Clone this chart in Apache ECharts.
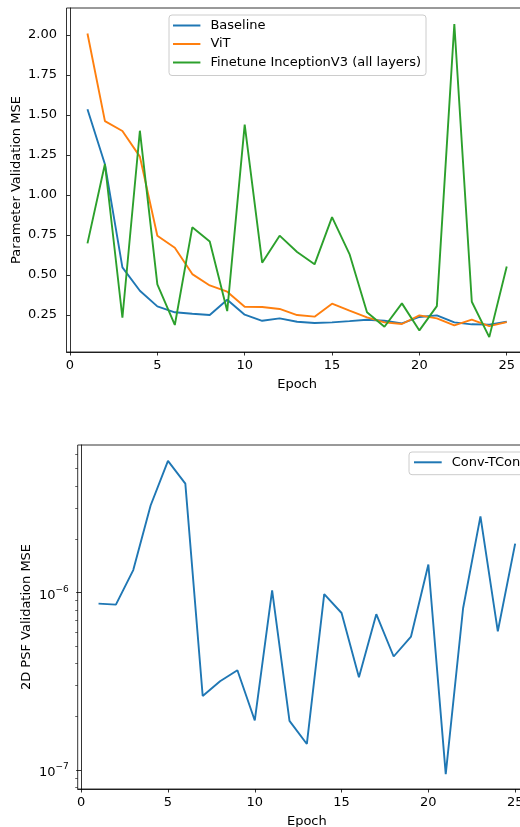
<!DOCTYPE html>
<html>
<head>
<meta charset="utf-8">
<script src="https://cdn.jsdelivr.net/npm/echarts@6/dist/echarts.min.js"></script>
<style>html,body{margin:0;padding:0;background:#fff}#c{width:520px;height:827px}</style>
</head>
<body>
<div id="c"></div>
<script>
const epochs = [1,2,3,4,5,6,7,8,9,10,11,12,13,14,15,16,17,18,19,20,21,22,23,24,25];
const baseline = [1.536,1.192,0.548,0.402,0.304,0.267,0.258,0.250,0.346,0.252,0.214,0.229,0.208,0.200,0.204,0.212,0.221,0.214,0.198,0.238,0.248,0.204,0.192,0.190,0.208];
const vit = [2.010,1.462,1.400,1.240,0.746,0.671,0.506,0.435,0.396,0.302,0.300,0.288,0.250,0.240,0.321,0.277,0.235,0.204,0.194,0.248,0.229,0.186,0.221,0.181,0.206];
const inception = [0.698,1.194,0.233,1.402,0.442,0.188,0.798,0.710,0.275,1.440,0.577,0.746,0.644,0.567,0.862,0.631,0.267,0.177,0.323,0.154,0.306,2.069,0.333,0.112,0.554];
const convTConv = [8.67e-7,8.55e-7,1.34e-6,3.10e-6,5.53e-6,4.12e-6,2.61e-7,3.16e-7,3.65e-7,1.90e-7,1.03e-6,1.89e-7,1.40e-7,9.79e-7,7.67e-7,3.33e-7,7.55e-7,4.36e-7,5.65e-7,1.44e-6,9.46e-8,8.16e-7,2.69e-6,6.05e-7,1.89e-6];
const xTicks = [0,5,10,15,20,25];
const yTicksTop = [0.25,0.5,0.75,1.0,1.25,1.5,1.75,2.0];
const yTicksBottom = [1e-7,1e-6];
const yMinorBottom = [8e-8,9e-8,2e-7,3e-7,4e-7,5e-7,6e-7,7e-7,8e-7,9e-7,2e-6,3e-6,4e-6,5e-6,6e-6];

const FONT = 'DejaVu Sans';
const FS = 13;
const black = '#000';
const pair = (xs, ys) => xs.map((x, i) => [x, ys[i]]);

const xAxisBase = (gi) => ({
  type: 'value', gridIndex: gi, min: -0.2, max: 26.2,
  axisLine: {show: true, lineStyle: {color: black, width: 0.8}},
  axisTick: {show: true, length: 3.5, lineStyle: {color: black, width: 0.8}, customValues: xTicks},
  axisLabel: {color: black, fontFamily: FONT, fontSize: FS, margin: 7, customValues: xTicks},
  splitLine: {show: false},
  name: 'Epoch', nameLocation: 'middle', nameGap: 26, nameMoveOverlap: false,
  nameTextStyle: {color: black, fontFamily: FONT, fontSize: FS}
});

const option = {
  animation: false,
  backgroundColor: '#fff',
  textStyle: {fontFamily: FONT},
  grid: [
    {left: 66.5, top: 8, width: 461.2, height: 344, show: true, borderColor: black, borderWidth: 0.8, outerBoundsMode: 'none', containLabel: false},
    {left: 77.7, top: 445, width: 458.3, height: 344, show: true, borderColor: black, borderWidth: 0.8, outerBoundsMode: 'none', containLabel: false}
  ],
  legend: [
    {
      data: ['Baseline', 'ViT', 'Finetune InceptionV3 (all layers)'],
      orient: 'vertical', left: 169, top: 15,
      padding: [3.5, 5, 6, 4], itemGap: 4.5,
      itemWidth: 27.4, itemHeight: 2, icon: 'rect',
      backgroundColor: 'rgba(255,255,255,0.8)', borderColor: '#cccccc', borderWidth: 1, borderRadius: 3,
      textStyle: {color: black, fontFamily: FONT, fontSize: FS, lineHeight: 14, padding: [0, 0, 0, 5]}
    },
    {
      data: ['Conv-TConv'],
      orient: 'vertical', left: 409, top: 452,
      padding: [3.3, 5, 5.4, 5], itemGap: 4.5,
      itemWidth: 27.7, itemHeight: 2, icon: 'rect',
      backgroundColor: 'rgba(255,255,255,0.8)', borderColor: '#cccccc', borderWidth: 1, borderRadius: 3,
      textStyle: {color: black, fontFamily: FONT, fontSize: FS, lineHeight: 14, padding: [0, 0, 0, 5]}
    }
  ],
  xAxis: [xAxisBase(0), xAxisBase(1)],
  yAxis: [
    {
      type: 'value', gridIndex: 0, min: 0.019, max: 2.169, position: 'left',
      axisLine: {show: true, lineStyle: {color: black, width: 0.8}},
      axisTick: {show: true, length: 3.5, lineStyle: {color: black, width: 0.8}, customValues: yTicksTop},
      axisLabel: {color: black, fontFamily: FONT, fontSize: FS, margin: 9.5, customValues: yTicksTop,
        formatter: v => Number(v).toFixed(2)},
      splitLine: {show: false},
      name: 'Parameter Validation MSE', nameLocation: 'middle', nameGap: 43.3, nameMoveOverlap: false,
      nameTextStyle: {color: black, fontFamily: FONT, fontSize: FS}
    },
    {
      type: 'log', logBase: 10, gridIndex: 1, min: 7.8e-8, max: 6.8e-6, position: 'left',
      axisLine: {show: true, lineStyle: {color: black, width: 0.8}},
      axisTick: {show: true, length: 5, lineStyle: {color: black, width: 0.8}, customValues: yTicksBottom},
      axisLabel: {color: black, fontFamily: FONT, fontSize: FS, margin: 9, customValues: yTicksBottom,
        formatter: v => {
          const e = Math.round(Math.log10(v));
          return '{b|10}{s|' + String(e).replace('-', '−') + '}';
        },
        rich: {
          b: {fontFamily: FONT, fontSize: FS, color: black, padding: [6, 0, 0, 0]},
          s: {fontFamily: FONT, fontSize: 9, color: black, padding: [0, 0, 6, 0]}
        }
      },
      splitLine: {show: false},
      name: '2D PSF Validation MSE', nameLocation: 'middle', nameGap: 44.5, nameMoveOverlap: false,
      nameTextStyle: {color: black, fontFamily: FONT, fontSize: FS}
    },
    {
      type: 'log', logBase: 10, gridIndex: 1, min: 7.8e-8, max: 6.8e-6, position: 'left', offset: 0,
      axisLine: {show: false},
      axisTick: {show: true, length: 2.5, lineStyle: {color: black, width: 0.6}, customValues: yMinorBottom},
      axisLabel: {show: false},
      splitLine: {show: false}
    }
  ],
  series: [
    {name: 'Baseline', type: 'line', xAxisIndex: 0, yAxisIndex: 0, data: pair(epochs, baseline), showSymbol: false, symbol: 'none', color: '#1f77b4', lineStyle: {width: 1.9}},
    {name: 'ViT', type: 'line', xAxisIndex: 0, yAxisIndex: 0, data: pair(epochs, vit), showSymbol: false, symbol: 'none', color: '#ff7f0e', lineStyle: {width: 1.9}},
    {name: 'Finetune InceptionV3 (all layers)', type: 'line', xAxisIndex: 0, yAxisIndex: 0, data: pair(epochs, inception), showSymbol: false, symbol: 'none', color: '#2ca02c', lineStyle: {width: 1.9}},
    {name: 'Conv-TConv', type: 'line', xAxisIndex: 1, yAxisIndex: 1, data: pair(epochs, convTConv), showSymbol: false, symbol: 'none', color: '#1f77b4', lineStyle: {width: 1.9}}
  ]
};
const chart = echarts.init(document.getElementById('c'), null, {renderer: 'canvas'});
chart.setOption(option);
</script>
</body>
</html>
